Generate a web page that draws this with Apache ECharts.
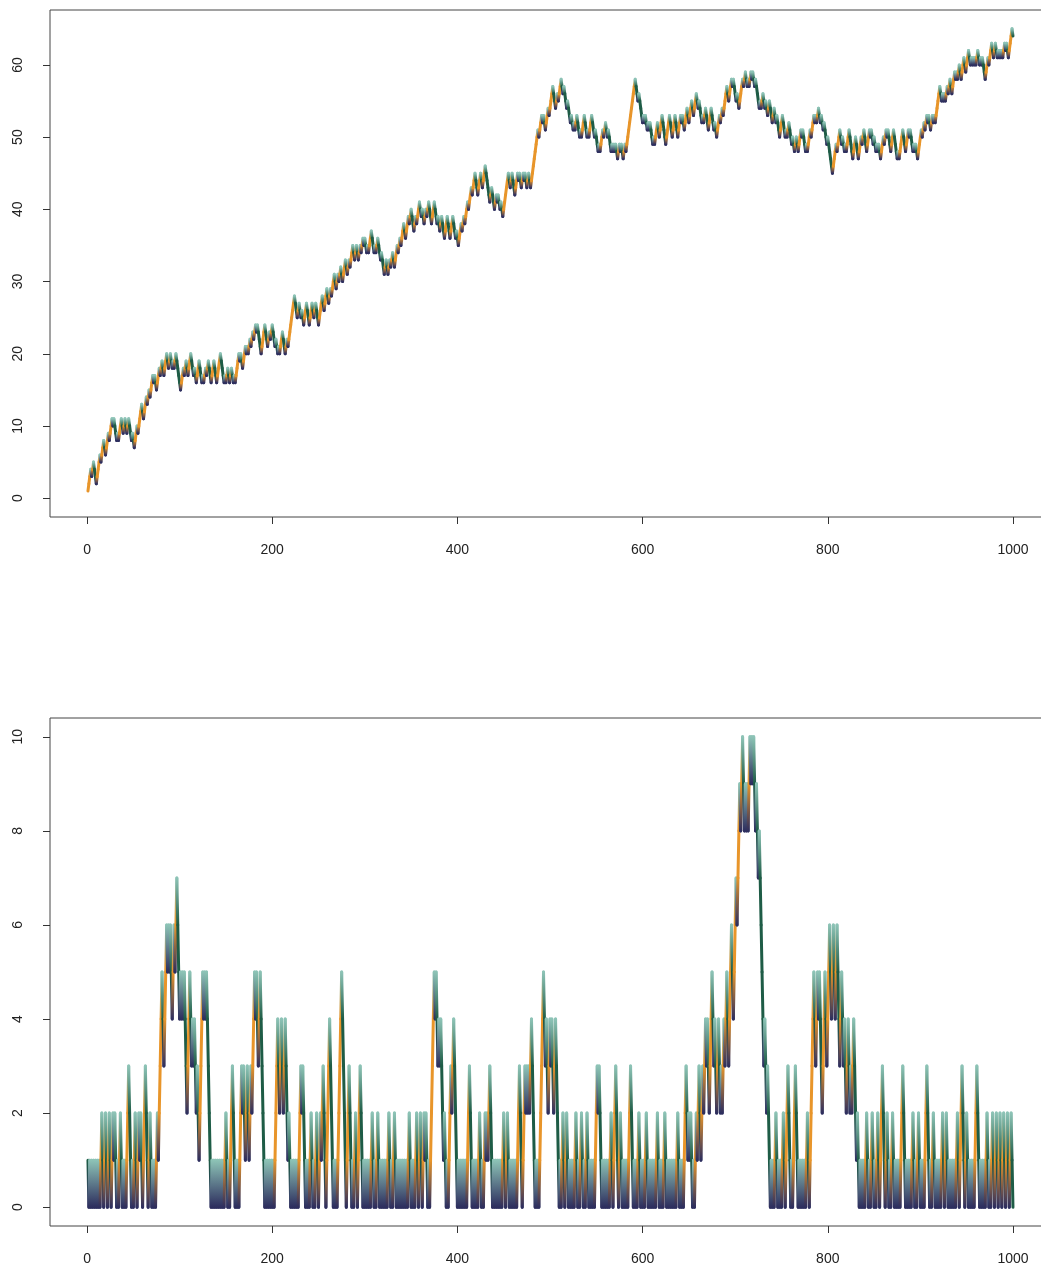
<!DOCTYPE html>
<html><head><meta charset="utf-8">
<script src="https://cdn.jsdelivr.net/npm/echarts@6/dist/echarts.min.js"></script>
<style>html,body{margin:0;padding:0;background:#fff;overflow:hidden}#c{width:1050px;height:1270px}</style>
</head><body><div id="c"></div>
<script>
// Top panel: walk value at step 1..1000
const walkValues = [
1,2,3,4,3,4,5,4,3,2,3,4,5,6,5,6,7,8,7,6,7,8,9,8,9,10,11,10,11,10,9,8,9,8,
9,10,11,10,9,10,11,10,9,10,11,10,9,8,9,8,7,8,9,10,9,10,11,12,13,12,11,12,13,14,13,14,15,14,
15,16,17,16,17,16,15,16,17,18,17,18,19,18,17,18,19,20,19,18,19,20,19,18,19,18,19,20,
19,18,17,16,15,16,17,18,17,18,19,18,17,18,19,20,19,18,17,18,17,16,17,18,19,18,17,16,17,16,
17,18,17,18,19,18,17,16,17,18,19,18,17,16,17,18,19,20,19,18,17,16,17,16,17,18,17,16,17,18,
17,16,17,16,17,18,19,20,19,20,19,18,19,20,21,20,21,20,21,22,21,22,23,22,23,24,23,24,23,22,
21,20,21,22,23,24,23,22,21,22,23,22,23,24,23,22,21,22,21,20,21,20,21,22,23,22,21,20,21,22,21,
22,23,24,25,26,27,28,27,26,25,26,27,26,25,26,25,24,25,26,27,26,25,24,25,26,27,26,25,26,27,26,
25,24,25,26,27,28,27,26,27,28,29,28,27,28,29,28,29,30,31,30,29,30,31,30,31,32,31,30,
31,32,33,32,31,32,33,32,33,34,35,34,33,34,35,34,33,34,35,34,35,36,35,36,35,34,35,34,
35,36,37,36,35,34,35,34,35,36,35,34,33,34,33,32,31,32,33,32,31,32,33,32,33,34,33,32,
33,34,35,34,35,36,35,36,37,38,37,36,37,38,39,38,39,40,39,38,37,38,39,38,39,40,41,40,
39,40,39,38,39,40,39,40,41,40,39,38,39,40,41,40,39,38,39,38,37,38,39,38,37,36,37,38,
39,38,37,36,37,38,39,38,37,36,37,36,35,36,37,38,37,38,39,38,39,40,41,40,41,42,43,42,
43,44,45,44,43,42,43,44,45,44,43,44,45,46,45,44,43,42,41,42,43,42,41,40,41,42,41,42,41,40,
41,40,39,40,41,42,43,44,45,44,43,44,45,44,43,42,43,44,45,44,45,44,43,44,45,44,45,44,43,44,
45,44,43,44,45,46,47,48,49,50,51,50,51,52,53,52,53,52,51,52,53,54,53,54,55,56,57,56,55,54,
55,56,55,56,57,58,57,56,57,56,55,54,55,54,53,52,53,52,51,52,51,52,53,52,51,50,51,50,
51,52,53,52,51,50,51,50,51,52,53,52,51,50,51,50,49,48,49,48,49,50,51,50,51,52,51,50,51,50,
49,48,49,48,49,48,49,48,47,48,49,48,49,48,47,48,49,48,49,50,51,52,53,54,55,56,57,58,57,56,
55,56,55,54,53,52,53,52,53,52,51,52,51,52,51,50,49,50,49,50,51,52,51,50,51,52,53,52,
51,50,49,50,51,52,53,52,51,50,51,52,53,52,51,50,51,52,53,52,53,52,51,52,53,54,53,52,53,
54,55,54,53,54,55,56,55,54,55,54,53,52,53,52,53,54,53,52,51,52,53,54,53,52,51,52,51,50,
51,52,53,52,53,54,53,54,55,56,57,56,55,56,57,58,57,58,57,56,55,56,55,54,55,
56,57,58,57,58,59,58,57,58,57,58,59,58,59,58,57,58,57,56,55,54,55,54,55,
56,55,54,55,54,53,54,55,54,53,52,53,54,53,52,53,52,51,50,51,52,53,52,51,50,51,50,51,52,51,
50,49,50,49,48,49,50,49,48,49,50,51,50,51,50,49,48,49,48,49,50,51,50,51,52,53,52,53,52,
53,54,53,52,53,52,51,52,51,50,49,50,49,48,47,46,45,46,47,48,49,48,49,50,51,50,49,50,
49,48,49,48,49,50,51,50,49,48,47,48,49,50,49,48,47,48,49,50,49,50,51,50,49,48,49,50,51,50,
51,50,49,50,49,48,49,48,49,48,47,48,49,50,49,50,51,50,51,50,49,48,49,50,51,50,49,48,47,48,47,
48,49,50,51,50,49,48,49,50,51,50,51,50,49,48,49,48,49,48,47,48,49,50,51,50,51,52,51,52,
53,52,53,52,51,52,53,52,53,52,53,54,55,56,57,56,55,56,55,56,55,56,57,56,57,58,57,56,57,58,
59,58,59,58,59,60,59,58,59,60,61,60,59,60,61,62,61,60,61,60,61,60,61,60,61,62,61,60,61,
60,61,60,59,58,59,60,61,60,61,62,63,62,61,62,63,62,61,62,61,62,61,62,61,62,63,62,63,
62,61,62,63,64,65,64
];
// Bottom panel: value at step 1..1000
const gapValues = [
1,0,1,0,1,0,1,0,1,0, 1,0,1,0,1,2,1,0,1,2, 1,0,1,2,1,0,1,2,1,2, 1,0,1,0,1,2,1,0,1,0,
1,0,1,2,3,2,1,0,1,0, 1,2,1,0,1,2,1,2,1,0, 1,2,3,2,1,0,1,2,1,0, 1,0,1,0,1,2,1,2,3,4,
5,4,3,4,5,6,5,6,5,6, 5,4,5,6,5,6,7,6,5,4, 5,4,5,4,5,4,3,2,3,4, 5,4,3,4,3,4,3,2,3,2,
1,2,3,4,5,4,5,4,5,4, 3,2,1,0,1,0,1,0,1,0, 1,0,1,0,1,0,1,0,1,2, 1,0,1,0,1,2,3,2,1,0,
1,0,1,0,1,2,3,2,3,2, 1,2,3,2,1,2,3,2,3,4, 5,4,5,4,3,4,5,4,3,2, 1,0,1,0,1,0,1,0,1,0,
1,0,1,2,3,4,3,2,3,4, 3,2,3,4,3,2,1,2,1,0, 1,0,1,0,1,0,1,0,1,2, 3,2,3,2,1,0,1,0,1,0,
1,2,1,0,1,0,1,2,1,0, 1,2,1,2,3,2,1,0,1,2, 3,4,3,2,1,0,1,0,1,0, 1,2,3,4,5,4,3,2,1,0,
1,2,3,2,1,0,1,0,1,2, 1,0,1,2,3,2,1,0,1,0, 1,0,1,0,1,0,1,2,1,0, 1,0,1,2,1,0,1,0,1,0,
1,0,1,0,1,2,1,0,1,0, 1,2,1,0,1,0,1,0,1,0, 1,0,1,0,1,0,1,2,1,0, 1,0,1,0,1,2,1,0,1,2,
1,0,1,2,1,2,1,0,1,0, 1,2,3,4,5,4,5,4,3,4, 3,4,3,2,1,2,1,0,1,0, 1,2,3,2,3,4,3,2,1,0,
1,0,1,0,1,0,1,0,1,0, 1,2,3,2,1,0,1,0,1,0, 1,0,1,2,1,0,1,0,1,2, 1,2,1,2,3,2,1,0,1,0,
1,0,1,0,1,0,1,0,1,2, 1,0,1,2,1,0,1,0,1,0, 1,0,1,0,1,2,3,2,1,0, 1,2,3,2,3,2,3,2,3,4,
3,2,1,0,1,0,1,0,1,2, 3,4,5,4,3,4,3,2,3,4, 3,4,3,2,3,4,3,2,1,0, 1,0,1,2,1,0,1,2,1,0,
1,0,1,0,1,0,1,2,1,0, 1,0,1,2,1,0,1,0,1,2, 1,0,1,0,1,0,1,0,1,2, 3,2,3,2,1,0,1,0,1,0,
1,0,1,0,1,2,1,0,1,2, 3,2,1,0,1,2,1,0,1,0, 1,0,1,0,1,2,3,2,1,0, 1,0,1,0,1,2,1,0,1,0,
1,0,1,2,1,0,1,0,1,0, 1,0,1,0,1,2,1,0,1,0, 1,0,1,2,1,0,1,0,1,0, 1,0,1,0,1,0,1,2,1,0,
1,0,1,0,1,2,3,2,1,2, 1,2,1,0,1,0,1,2,1,2, 3,2,1,2,3,2,3,4,3,4, 3,2,3,4,5,4,3,4,3,2,
3,4,3,2,3,2,3,4,3,4, 5,4,3,4,5,6,5,4,5,6, 7,6,7,8,9,8,9,10,9,8, 9,8,9,8,9,10,9,10,9,10,
9,8,9,8,7,8,7,6,5,4, 3,4,3,2,3,2,1,0,1,0, 1,0,1,2,1,0,1,0,1,0, 1,2,1,0,1,2,3,2,1,0,
1,0,1,2,3,2,1,0,1,0, 1,0,1,0,1,0,1,2,1,0, 1,2,3,4,5,4,3,4,5,4, 5,4,3,2,3,4,5,4,3,4,
5,6,5,4,5,6,5,4,5,6, 5,4,3,4,5,4,3,4,3,2, 3,4,3,2,3,2,3,4,3,2, 1,2,1,0,1,0,1,0,1,0,
1,2,1,0,1,0,1,2,1,0, 1,0,1,2,1,0,1,2,3,2, 1,0,1,2,1,0,1,0,1,2, 1,0,1,0,1,0,1,0,1,2,
3,2,1,0,1,0,1,0,1,0, 1,2,1,0,1,0,1,2,1,0, 1,0,1,0,1,2,3,2,1,0, 1,0,1,2,1,0,1,0,1,0,
1,0,1,2,1,0,1,2,1,0, 1,0,1,0,1,0,1,0,1,2, 1,0,1,2,3,2,1,0,1,2, 1,0,1,0,1,0,1,0,1,2,
3,2,1,0,1,0,1,0,1,0, 1,2,1,0,1,0,1,2,1,0, 1,2,1,0,1,2,1,0,1,2, 1,0,1,2,1,0,1,2,1,0
];
const xTicks = [0, 200, 400, 600, 800, 1000];
const walkTicks = [0, 10, 20, 30, 40, 50, 60];
const gapTicks = [0, 2, 4, 6, 8, 10];

// point colour by local shape: 0 peak, 1 trough, 2 rising, 3 falling
const PALETTE = ['#8DC3B6', '#2D2E5E', '#E8952A', '#1E5C46'];
function kindOf(vals, i) {
  const v = vals[i];
  const p = i > 0 ? vals[i - 1] : null;
  const n = i < vals.length - 1 ? vals[i + 1] : null;
  if (p === null) return n > v ? 2 : 3;
  if (n === null) return p < v ? 2 : 3;
  if (p < v && n < v) return 0;
  if (p > v && n > v) return 1;
  if (p < v) return 2;
  return 3;
}
function segData(vals) {
  const out = [];
  for (let i = 0; i < vals.length - 1; i++) {
    out.push([i + 1, vals[i], i + 2, vals[i + 1], kindOf(vals, i), kindOf(vals, i + 1)]);
  }
  return out;
}
function renderSeg(params, api) {
  const a = api.coord([api.value(0), api.value(1)]);
  const b = api.coord([api.value(2), api.value(3)]);
  return {
    type: 'line',
    shape: { x1: a[0], y1: a[1], x2: b[0], y2: b[1] },
    style: {
      stroke: { type: 'linear', x: a[0], y: a[1], x2: b[0], y2: b[1], global: true,
        colorStops: [{ offset: 0, color: PALETTE[api.value(4)] }, { offset: 1, color: PALETTE[api.value(5)] }] },
      lineWidth: 3, lineCap: 'round'
    }
  };
}
const FONT = 'Liberation Sans, Arial, Helvetica, sans-serif';
function xAx(gi) {
  return { gridIndex: gi, type: 'value', min: -40, max: 1040,
    splitLine: { show: false }, axisLine: { show: false, onZero: false },
    axisTick: { show: true, inside: false, length: 7, customValues: xTicks, lineStyle: { color: '#333' } },
    axisLabel: { customValues: xTicks, margin: 26, fontSize: 14, color: '#222', fontFamily: FONT,
      formatter: function (v) { return String(v); } } };
}
function yAx(gi, mn, mx, ticks) {
  return { gridIndex: gi, type: 'value', min: mn, max: mx,
    splitLine: { show: false }, axisLine: { show: false, onZero: false },
    axisTick: { show: true, inside: false, length: 7, customValues: ticks, lineStyle: { color: '#333' } },
    axisLabel: { customValues: ticks, rotate: 90, margin: 25, fontSize: 14, color: '#222', fontFamily: FONT,
      formatter: function (v) { return String(v); } } };
}
const chart = echarts.init(document.getElementById('c'), null, { renderer: 'canvas' });
chart.setOption({
  animation: false,
  backgroundColor: '#fff',
  grid: [
    { left: 50, top: 10, width: 1000, height: 507, show: true, borderColor: '#444', borderWidth: 1 },
    { left: 50, top: 718, width: 1000, height: 508, show: true, borderColor: '#444', borderWidth: 1 }
  ],
  xAxis: [xAx(0), xAx(1)],
  yAxis: [yAx(0, -2.6, 67.6, walkTicks), yAx(1, -0.4, 10.4, gapTicks)],
  series: [
    { type: 'custom', xAxisIndex: 0, yAxisIndex: 0, renderItem: renderSeg, data: segData(walkValues),
      encode: { x: [0, 2], y: [1, 3] }, silent: true, progressive: 0, clip: false },
    { type: 'custom', xAxisIndex: 1, yAxisIndex: 1, renderItem: renderSeg, data: segData(gapValues),
      encode: { x: [0, 2], y: [1, 3] }, silent: true, progressive: 0, clip: false }
  ]
});
</script></body></html>
